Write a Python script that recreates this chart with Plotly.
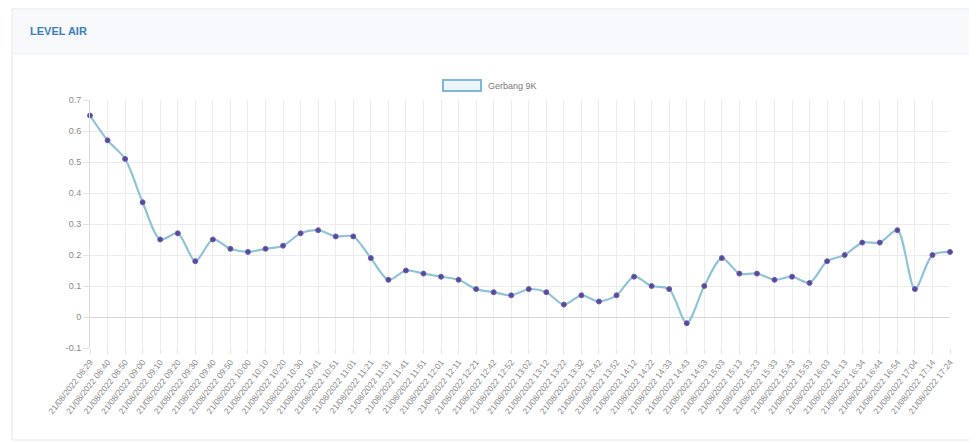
import plotly.graph_objects as go

title_text = "LEVEL AIR"
series_name = "Gerbang 9K"

time_labels = [
    "21/08/2022 08:29", "21/08/2022 08:40", "21/08/2022 08:50", "21/08/2022 09:00", "21/08/2022 09:10",
    "21/08/2022 09:20", "21/08/2022 09:30", "21/08/2022 09:40", "21/08/2022 09:50", "21/08/2022 10:00",
    "21/08/2022 10:10", "21/08/2022 10:20", "21/08/2022 10:30", "21/08/2022 10:41", "21/08/2022 10:51",
    "21/08/2022 11:01", "21/08/2022 11:21", "21/08/2022 11:31", "21/08/2022 11:41", "21/08/2022 11:51",
    "21/08/2022 12:01", "21/08/2022 12:11", "21/08/2022 12:21", "21/08/2022 12:42", "21/08/2022 12:52",
    "21/08/2022 13:02", "21/08/2022 13:12", "21/08/2022 13:22", "21/08/2022 13:32", "21/08/2022 13:42",
    "21/08/2022 13:52", "21/08/2022 14:12", "21/08/2022 14:22", "21/08/2022 14:33", "21/08/2022 14:43",
    "21/08/2022 14:53", "21/08/2022 15:03", "21/08/2022 15:13", "21/08/2022 15:23", "21/08/2022 15:33",
    "21/08/2022 15:43", "21/08/2022 15:53", "21/08/2022 16:03", "21/08/2022 16:13", "21/08/2022 16:34",
    "21/08/2022 16:44", "21/08/2022 16:54", "21/08/2022 17:04", "21/08/2022 17:14", "21/08/2022 17:24",
]

level_values = [
    0.65, 0.57, 0.51, 0.37, 0.25, 0.27, 0.18, 0.25, 0.22, 0.21,
    0.22, 0.23, 0.27, 0.28, 0.26, 0.26, 0.19, 0.12, 0.15, 0.14,
    0.13, 0.12, 0.09, 0.08, 0.07, 0.09, 0.08, 0.04, 0.07, 0.05,
    0.07, 0.13, 0.10, 0.09, -0.02, 0.10, 0.19, 0.14, 0.14, 0.12,
    0.13, 0.11, 0.18, 0.20, 0.24, 0.24, 0.28, 0.09, 0.20, 0.21,
]

y_ticks = [-0.1, 0, 0.1, 0.2, 0.3, 0.4, 0.5, 0.6, 0.7]
y_tick_text = ["-0.1", "0", "0.1", "0.2", "0.3", "0.4", "0.5", "0.6", "0.7"]

# page body has an 8px margin, so the figure is drawn at screen offset (8, 8)
OFF = 8
W, H = 977 - OFF, 443 - OFF
# plot area in screen pixels: x 90..950, y 100..348
ML, MT = 90 - OFF, 100 - OFF
MR = W - (950 - OFF)
MB = H - (348 - OFF)
PW, PH = W - ML - MR, H - MT - MB


def px_x(p):
    return (p - OFF - ML) / PW


def px_y(p):
    return (H - MB - (p - OFF)) / PH


FONT = "Liberation Sans, Arial, sans-serif"

fig = go.Figure()
fig.add_trace(go.Scatter(
    x=time_labels,
    y=level_values,
    mode="lines+markers",
    name=series_name,
    line=dict(color="#8fc4d8", width=2.2, shape="spline", smoothing=0.8),
    marker=dict(color="#56479a", size=5, line=dict(color="#6f63b0", width=1)),
    showlegend=False,
    cliponaxis=False,
))

shapes = [
    # card
    dict(type="rect", xref="paper", yref="paper", layer="below",
         x0=px_x(12), x1=px_x(970), y0=px_y(440), y1=px_y(9),
         line=dict(color="#e6e7ea", width=1), fillcolor="#ffffff"),
    # header band
    dict(type="rect", xref="paper", yref="paper", layer="below",
         x0=px_x(12), x1=px_x(970), y0=px_y(54), y1=px_y(9),
         line=dict(color="#eceef2", width=1), fillcolor="#f8f9fc"),
    # legend box
    dict(type="rect", xref="paper", yref="paper",
         x0=px_x(443), x1=px_x(481), y0=px_y(91), y1=px_y(80),
         line=dict(color="#7db8da", width=2), fillcolor="rgba(180,215,235,0.25)"),
]

annotations = [
    dict(text="<b>" + title_text + "</b>", xref="paper", yref="paper",
         x=px_x(28), y=px_y(31), xanchor="left", yanchor="middle", showarrow=False,
         font=dict(family=FONT, size=11, color="#3a7fc0")),
    dict(text=series_name, xref="paper", yref="paper",
         x=px_x(486), y=px_y(86), xanchor="left", yanchor="middle", showarrow=False,
         font=dict(family=FONT, size=9, color="#777777")),
]

fig.update_layout(
    width=W, height=H,
    margin=dict(l=ML, r=MR, t=MT, b=MB),
    paper_bgcolor="#ffffff",
    plot_bgcolor="rgba(0,0,0,0)",
    shapes=shapes,
    annotations=annotations,
    font=dict(family=FONT, size=9, color="#777777"),
)

fig.update_xaxes(
    type="category",
    range=[0, len(time_labels) - 1],
    automargin=False,
    showgrid=True, gridcolor="#ececec", gridwidth=1,
    tickangle=-52,
    tickfont=dict(family=FONT, size=8.5, color="#8a8a8a"),
    ticks="outside", ticklen=5, tickcolor="#e2e2e2",
    showline=False,
    zeroline=False,
)

fig.update_yaxes(
    range=[-0.1, 0.7],
    automargin=False,
    tickvals=y_ticks, ticktext=y_tick_text,
    showgrid=True, gridcolor="#ececec", gridwidth=1,
    zeroline=True, zerolinecolor="#d6d6d6", zerolinewidth=1,
    showline=True, linecolor="#dcdcdc", linewidth=1,
    ticks="outside", ticklen=6, tickcolor="#e2e2e2",
    tickfont=dict(family=FONT, size=9, color="#8a8a8a"),
)

fig.write_html("out.html")
